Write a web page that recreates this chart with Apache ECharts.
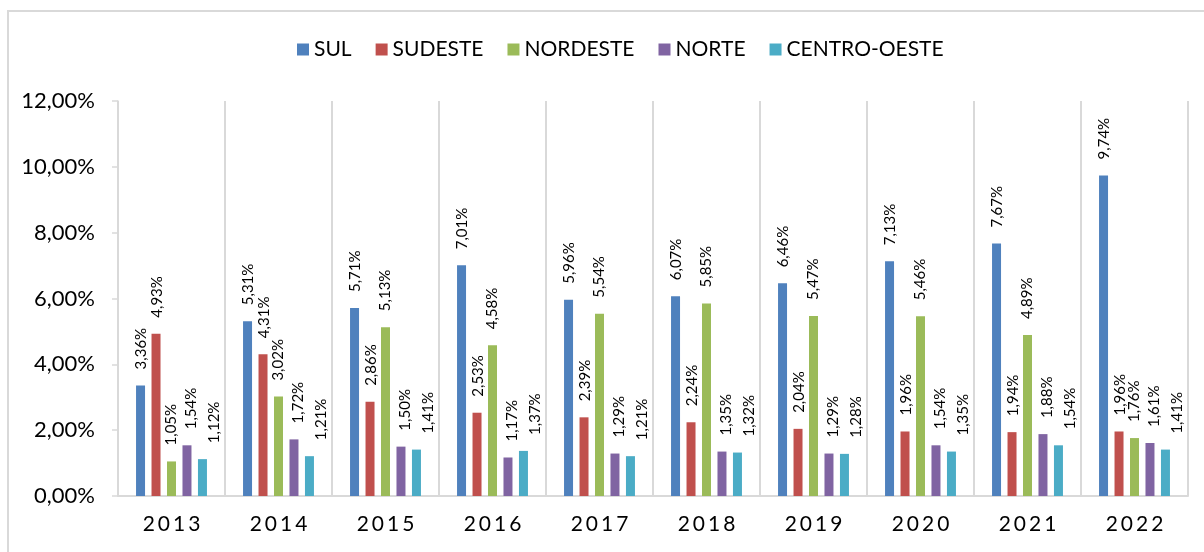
<!DOCTYPE html>
<html>
<head>
<meta charset="utf-8">
<script src="https://cdn.jsdelivr.net/npm/echarts@6/dist/echarts.min.js"></script>
<style>
  html, body { margin: 0; padding: 0; background: #fff; }
  #main { width: 1204px; height: 552px; }
</style>
</head>
<body>
<div id="main"></div>
<script>
// dados do gráfico
var anos = ['2013', '2014', '2015', '2016', '2017', '2018', '2019', '2020', '2021', '2022'];
var sul = [3.36, 5.31, 5.71, 7.01, 5.96, 6.07, 6.46, 7.13, 7.67, 9.74];
var sudeste = [4.93, 4.31, 2.86, 2.53, 2.39, 2.24, 2.04, 1.96, 1.94, 1.96];
var nordeste = [1.05, 3.02, 5.13, 4.58, 5.54, 5.85, 5.47, 5.46, 4.89, 1.76];
var norte = [1.54, 1.72, 1.50, 1.17, 1.29, 1.35, 1.29, 1.54, 1.88, 1.61];
var centroOeste = [1.12, 1.21, 1.41, 1.37, 1.21, 1.32, 1.28, 1.35, 1.54, 1.41];
var ticksY = [0, 2, 4, 6, 8, 10, 12];

var fonte = 'Lato, "Open Sans", sans-serif';

function pct(v) {
    return v.toFixed(2).replace('.', ',') + '%';
}

var myChart = echarts.init(document.getElementById('main'));

// dx: deslocamento horizontal do rótulo (como o Excel afasta os rótulos)
// o rótulo está girado 90°, então o deslocamento na tela vai no eixo y dele
function serie(nome, dados, cor, dx) {
    return {
        name: nome,
        type: 'bar',
        data: dados,
        barWidth: 9,
        barGap: '72%',
        itemStyle: { color: cor },
        label: {
            show: true,
            position: 'top',
            distance: 16,
            rotate: 90,
            align: 'left',
            verticalAlign: 'middle',
            offset: [0, dx],
            fontFamily: fonte,
            fontSize: 15,
            color: '#000',
            formatter: function (p) { return pct(p.value); }
        }
    };
}

var option = {
    animation: false,
    textStyle: { fontFamily: fonte },
    graphic: [{
        type: 'rect',
        shape: { x: 8, y: 11, width: 1220, height: 560 },
        style: { fill: 'none', stroke: '#d9d9d9', lineWidth: 2 },
        silent: true
    }],
    legend: {
        top: 34,
        left: 292,
        itemWidth: 12,
        itemHeight: 12,
        itemGap: 24,
        icon: 'rect',
        textStyle: { fontFamily: fonte, fontSize: 21, color: '#000' },
        data: ['SUL', 'SUDESTE', 'NORDESTE', 'NORTE', 'CENTRO-OESTE']
    },
    grid: { left: 118, right: 16, top: 101, bottom: 56, containLabel: false },
    xAxis: {
        type: 'category',
        data: anos,
        axisLine: { lineStyle: { color: '#d9d9d9', width: 2 } },
        axisTick: { show: false },
        splitLine: { show: true, interval: 0, lineStyle: { color: '#d9d9d9', width: 2 } },
        axisLabel: {
            interval: 0,
            margin: 18,
            formatter: function (v) {
                return v.split('').map(function (c) { return '{d|' + c + '}'; }).join('');
            },
            rich: {
                d: { fontFamily: fonte, fontSize: 21, color: '#000', padding: [0, 1.5] }
            }
        }
    },
    yAxis: {
        type: 'value',
        min: ticksY[0],
        max: ticksY[ticksY.length - 1],
        interval: 2,
        axisLine: { show: true, lineStyle: { color: '#d9d9d9', width: 1.5 } },
        axisTick: { show: true, length: 6, lineStyle: { color: '#d9d9d9', width: 1.5 } },
        splitLine: { show: false },
        axisLabel: {
            margin: 23,
            fontFamily: fonte,
            fontSize: 22,
            color: '#000',
            formatter: function (v) { return pct(v); }
        }
    },
    series: [
        serie('SUL', sul, '#4f81bd', 1),
        serie('SUDESTE', sudeste, '#c0504d', 1),
        serie('NORDESTE', nordeste, '#9bbb59', 0),
        serie('NORTE', norte, '#8064a2', 4),
        serie('CENTRO-OESTE', centroOeste, '#4bacc6', 12)
    ]
};

myChart.setOption(option);
</script>
</body>
</html>
